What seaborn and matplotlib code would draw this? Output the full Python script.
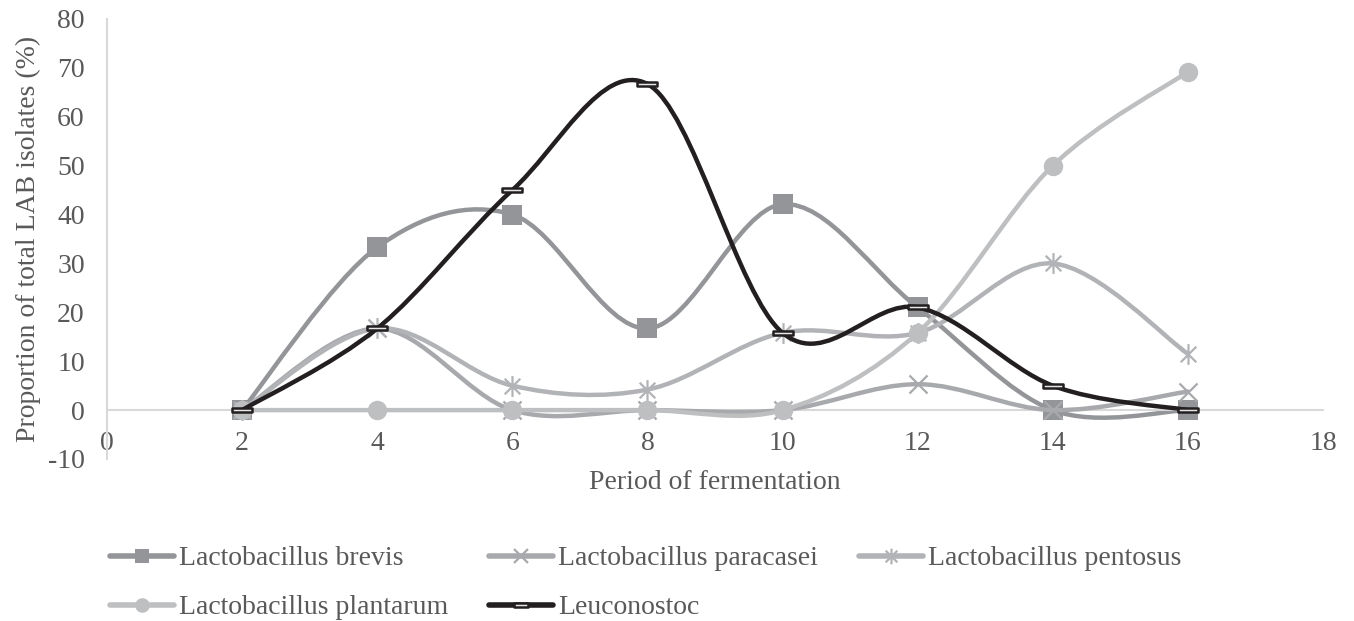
import numpy as np
import pandas as pd
import matplotlib
matplotlib.use("Agg")
import matplotlib.pyplot as plt
from matplotlib.path import Path
from matplotlib.patches import PathPatch
from matplotlib.lines import Line2D
import seaborn as sns

# Data
days = [2, 4, 6, 8, 10, 12, 14, 16]
brevis = [0, 33.3, 40, 16.7, 42.1, 21, 0, 0]
paracasei = [0, 16.7, 0, 0, 0, 5.3, 0, 3.8]
pentosus = [0, 16.7, 5, 4.2, 15.8, 15.8, 30, 11.5]
plantarum = [0, 0, 0, 0, 0, 15.8, 50, 69.2]
leuconostoc = [0, 16.7, 45, 66.7, 15.8, 21, 5, 0]

names = ["Lactobacillus brevis", "Lactobacillus paracasei", "Lactobacillus pentosus",
         "Lactobacillus plantarum", "Leuconostoc"]
values = [brevis, paracasei, pentosus, plantarum, leuconostoc]
colors = ["#949598", "#A7A9AC", "#B1B3B6", "#BEBFC1", "#231F20"]

# custom markers
star_path = Path([(0, -1), (0, 1), (-0.75, -0.75), (0.75, 0.75), (-0.75, 0.75), (0.75, -0.75)],
                 [Path.MOVETO, Path.LINETO, Path.MOVETO, Path.LINETO, Path.MOVETO, Path.LINETO])
dash_path = Path([(-1, -0.22), (1, -0.22), (1, 0.22), (-1, 0.22), (-1, -0.22)],
                 [Path.MOVETO, Path.LINETO, Path.LINETO, Path.LINETO, Path.CLOSEPOLY])
markers = ["s", "x", star_path, "o", dash_path]
msizes = [14, 13, 15, 14, 14]
faces = ["#949598", "#A7A9AC", "none", "#BEBFC1", "#E6E6E6"]
mew = [0, 1.6, 1.6, 0, 1.8]


def smooth_path(xs, ys):
    # Excel-like smoothed line: cubic Bezier with Catmull-Rom control points
    pts = np.column_stack([xs, ys]).astype(float)
    n = len(pts)
    verts = [pts[0]]
    codes = [Path.MOVETO]
    for i in range(n - 1):
        p0 = pts[max(i - 1, 0)]
        p1 = pts[i]
        p2 = pts[i + 1]
        p3 = pts[min(i + 2, n - 1)]
        c1 = p1 + (p2 - p0) / 6.0
        c2 = p2 - (p3 - p1) / 6.0
        verts += [c1, c2, p2]
        codes += [Path.CURVE4] * 3
    return Path(verts, codes)


sns.set_style("white")
plt.rcParams["font.family"] = ["Liberation Serif", "DejaVu Serif"]
plt.rcParams["axes.unicode_minus"] = False

fs = 20
fig = plt.figure(figsize=(13.54, 6.21), dpi=100)
ax = fig.add_axes([107 / 1354, 1 - 459 / 621, (1323 - 107) / 1354, (459 - 19) / 621])

for i, (name, vals) in enumerate(zip(names, values)):
    patch = PathPatch(smooth_path(days, vals), fill=False, edgecolor=colors[i], lw=3.2,
                      capstyle="round", joinstyle="round", zorder=2 + i)
    ax.add_patch(patch)
    df = pd.DataFrame({"day": days, "value": vals})
    sns.scatterplot(data=df, x="day", y="value", ax=ax, marker=markers[i],
                    s=msizes[i] ** 2, color=faces[i] if faces[i] != "none" else colors[i],
                    edgecolor=colors[i], linewidth=mew[i], zorder=2.5 + i, legend=False)

ax.set_xlim(0, 18)
ax.set_ylim(-10, 80)
ax.set_xticks(range(0, 19, 2))
ax.set_yticks(range(-10, 81, 10))

grey = "#595959"
for s in ["top", "right"]:
    ax.spines[s].set_visible(False)
ax.spines["left"].set_color("#D9D9D9")
ax.spines["left"].set_linewidth(1.5)
ax.spines["bottom"].set_position(("data", 0))
ax.spines["bottom"].set_color("#D9D9D9")
ax.spines["bottom"].set_linewidth(1.5)
ax.tick_params(axis="both", length=0, labelsize=fs, labelcolor=grey)
ax.tick_params(axis="x", pad=15)
ax.tick_params(axis="y", pad=16)

ax.set_xlabel("Period of fermentation", fontsize=fs, color=grey, va="top")
ax.set_ylabel("Proportion of total LAB isolates (%)", fontsize=fs, color=grey)
ax.xaxis.set_label_coords(0.5, -0.026)
ax.yaxis.set_label_coords(-0.054, 0.5)

# legend fills column-wise, so order entries to read row-wise
order = [0, 3, 1, 4, 2]
handles = []
for i in order:
    mfc = faces[i] if faces[i] != "none" else colors[i]
    handles.append(Line2D([0], [0], color=colors[i], lw=4, marker=markers[i],
                          markersize=msizes[i] * 0.75, markerfacecolor=mfc,
                          markeredgecolor=colors[i], markeredgewidth=mew[i]))
fig.legend(handles, [names[i] for i in order], loc="upper left",
           bbox_to_anchor=(110 / 1354, 1 - 546 / 621),
           ncol=3, frameon=False, fontsize=fs, labelcolor=grey, handlelength=2.3,
           handletextpad=0.2, columnspacing=1.45, labelspacing=0.85, borderpad=0,
           borderaxespad=0)

fig.savefig("out.png", dpi=100)
